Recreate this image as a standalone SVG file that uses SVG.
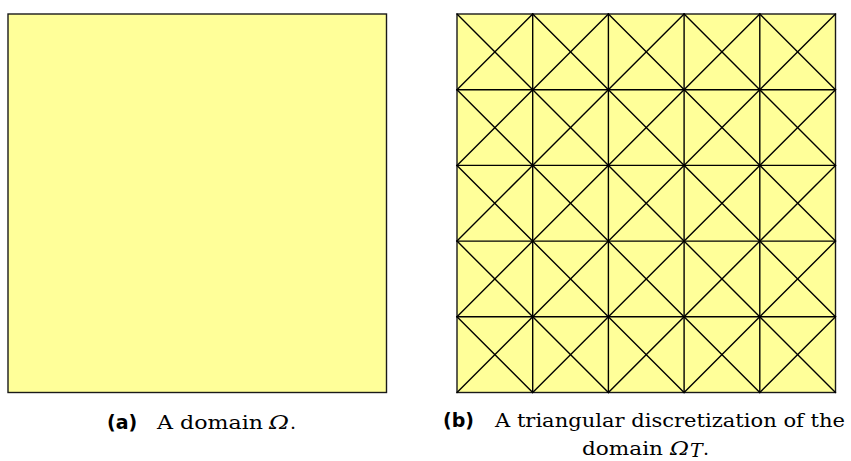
<svg xmlns="http://www.w3.org/2000/svg" width="851" height="461" viewBox="0 0 851 461">
<style>
.dom{fill:#ffff99;stroke:#1a1a1a;stroke-width:1.4}
.mesh{fill:none;stroke:#000;stroke-width:1.4;stroke-linecap:round}
.lab{font-family:"DejaVu Sans",sans-serif;font-weight:bold;font-size:19px;fill:#000}
.cap{font-family:"DejaVu Serif",serif;font-size:19px;fill:#000}
.it{font-style:italic}
</style>
<rect width="851" height="461" fill="#fff"/>
<g id="domain-a">
<rect class="dom" x="8" y="14" width="378.5" height="378.5"/>
</g>
<g id="domain-b">
<rect class="dom" x="457" y="14" width="378.5" height="378.5"/>
</g>
<g id="mesh-edges" class="mesh">
<path d="M532.7 14V392.5M608.4 14V392.5M684.1 14V392.5M759.8 14V392.5M457 89.7H835.5M457 165.4H835.5M457 241.1H835.5M457 316.8H835.5"/>
<path d="M457 14L835.5 392.5M532.7 14L835.5 316.8M608.4 14L835.5 241.1M684.1 14L835.5 165.4M759.8 14L835.5 89.7M457 89.7L759.8 392.5M457 165.4L684.1 392.5M457 241.1L608.4 392.5M457 316.8L532.7 392.5"/>
<path d="M532.7 14L457 89.7M608.4 14L457 165.4M684.1 14L457 241.1M759.8 14L457 316.8M835.5 14L457 392.5M835.5 89.7L532.7 392.5M835.5 165.4L608.4 392.5M835.5 241.1L684.1 392.5M835.5 316.8L759.8 392.5"/>
</g>
<g id="caption-a">
<text class="lab" x="107" y="429">(a)</text>
<text class="cap" x="157" y="429" textLength="106" lengthAdjust="spacingAndGlyphs">A domain</text>
<text class="cap it" x="269" y="429" textLength="20" lengthAdjust="spacingAndGlyphs">Ω</text>
<text class="cap" x="290" y="429">.</text>
</g>
<g id="caption-b">
<text class="lab" x="443" y="427">(b)</text>
<text class="cap" x="495" y="427" textLength="350" lengthAdjust="spacingAndGlyphs">A triangular discretization of the</text>
<text class="cap" x="582" y="455" textLength="81" lengthAdjust="spacingAndGlyphs">domain</text>
<text class="cap it" x="670" y="455" textLength="19" lengthAdjust="spacingAndGlyphs">Ω</text>
<text class="cap it" x="690" y="457" font-size="12">T</text>
<text class="cap" x="703" y="455">.</text>
</g>
</svg>
